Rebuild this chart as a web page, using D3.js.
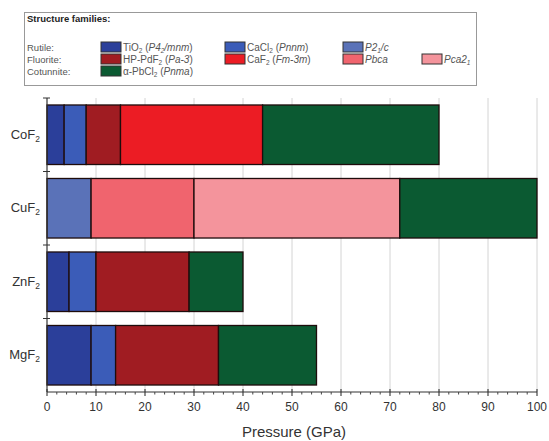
<!DOCTYPE html>
<html><head><meta charset="utf-8">
<script src="https://cdn.jsdelivr.net/npm/d3@7"></script>
<style>body{margin:0;background:#fff}svg{display:block;font-family:Arial,"Liberation Sans",sans-serif}</style>
</head><body><svg id="c" width="549" height="441"></svg>
<script>
const compounds = ["CoF2","CuF2","ZnF2","MgF2"];
const phases = ["TiO2","CaCl2","P21c","HPPdF2","CaF2","Pbca","Pca21","PbCl2"];
const phaseColors = ["#2b3f9a","#3b5cb8","#5a72b8","#a01c22","#ec1c24","#f0646e","#f4949c","#0b5a32"];
// segments: [compound, phase, start, end] in GPa
const segCompound = ["CoF2","CoF2","CoF2","CoF2","CoF2","CuF2","CuF2","CuF2","CuF2","ZnF2","ZnF2","ZnF2","ZnF2","MgF2","MgF2","MgF2","MgF2"];
const segPhase    = ["TiO2","CaCl2","HPPdF2","CaF2","PbCl2","P21c","Pbca","Pca21","PbCl2","TiO2","CaCl2","HPPdF2","PbCl2","TiO2","CaCl2","HPPdF2","PbCl2"];
const segStart    = [0,3.5,8,15,44, 0,9,30,72, 0,4.5,10,29, 0,9,14,35];
const segEnd      = [3.5,8,15,44,80, 9,30,72,100, 4.5,10,29,40, 9,14,35,55];
const xTicks = [0,10,20,30,40,50,60,70,80,90,100];

const svg = d3.select("#c");
const x = d3.scaleLinear().domain([0,100]).range([47,537]);
const y = d3.scaleBand().domain(compounds).range([98,392]).paddingInner(0.19).paddingOuter(0.095);
const color = d3.scaleOrdinal().domain(phases).range(phaseColors);

// grid
svg.append("g").selectAll("line").data(xTicks.slice(1)).join("line")
  .attr("x1",d=>x(d)).attr("x2",d=>x(d)).attr("y1",98).attr("y2",392)
  .attr("stroke","#d4d4d4").attr("stroke-width",1);

// bars
const segs = segCompound.map((c,i)=>({c, p:segPhase[i], s:segStart[i], e:segEnd[i]}));
svg.append("g").selectAll("rect").data(segs).join("rect")
  .attr("x",d=>x(d.s)).attr("width",d=>x(d.e)-x(d.s))
  .attr("y",d=>y(d.c)).attr("height",y.bandwidth())
  .attr("fill",d=>color(d.p)).attr("stroke","#1e0c0c").attr("stroke-width",1.3);

// x axis
const xa = svg.append("g").attr("transform","translate(0,392)");
xa.append("line").attr("x1",x(0)).attr("x2",x(100)).attr("stroke","#333").attr("stroke-width",1.2);
xa.selectAll(".mt").data(d3.range(0,101,2).filter(v=>v%10)).join("line")
  .attr("x1",d=>x(d)).attr("x2",d=>x(d)).attr("y1",0).attr("y2",2.5).attr("stroke","#444");
xa.selectAll(".Mt").data(xTicks).join("line")
  .attr("x1",d=>x(d)).attr("x2",d=>x(d)).attr("y1",-3).attr("y2",4).attr("stroke","#333").attr("stroke-width",1.1);
xa.selectAll("text").data(xTicks).join("text")
  .attr("x",d=>x(d)).attr("y",19).attr("text-anchor","middle")
  .attr("font-size",12).attr("fill","#333").text(d=>d);
svg.append("text").attr("x",294).attr("y",437).attr("text-anchor","middle")
  .attr("font-size",15).attr("fill","#333").text("Pressure (GPa)");

// y axis
const ya = svg.append("g");
ya.append("line").attr("x1",47).attr("x2",47).attr("y1",98).attr("y2",392).attr("stroke","#333").attr("stroke-width",1.2);
const bounds = compounds.map(c=>y(c)-y.step()*y.paddingInner()/2);
bounds[0]=98;
ya.selectAll(".yt").data(bounds).join("line")
  .attr("x1",43).attr("x2",50).attr("y1",d=>d).attr("y2",d=>d).attr("stroke","#333");
const yl = ya.selectAll(".yl").data(compounds).join("text")
  .attr("x",40).attr("y",d=>y(d)+y.bandwidth()/2+4).attr("text-anchor","end")
  .attr("font-size",13).attr("fill","#333");
yl.append("tspan").text(d=>d.slice(0,-1));
yl.append("tspan").attr("font-size",8.5).attr("dy",3).text(d=>d.slice(-1));

// legend
const lg = svg.append("g");
lg.append("rect").attr("x",24.5).attr("y",12.5).attr("width",452).attr("height",73)
  .attr("fill","#fff").attr("stroke","#999");
lg.append("text").attr("x",27).attr("y",22).attr("font-size",9.5).attr("font-weight","bold").attr("fill","#222").text("Structure families:");
const rowY = [47,59,71];
const rowLabels = ["Rutile:","Fluorite:","Cotunnite:"];
lg.selectAll(".rl").data(rowLabels).join("text")
  .attr("x",27).attr("y",(d,i)=>rowY[i]+3.5).attr("font-size",9.5).attr("fill","#555").text(d=>d);
const colX = [101,225,343,422];
const items = [
  {p:"TiO2", r:0,c:0, parts:[["TiO",""],["2","sub"],[" (",""],["P4","i"],["2","isub"],["/mnm","i"],[")",""]]},
  {p:"CaCl2",r:0,c:1, parts:[["CaCl",""],["2","sub"],[" (",""],["Pnnm","i"],[")",""]]},
  {p:"P21c", r:0,c:2, parts:[["P2","i"],["1","isub"],["/c","i"]]},
  {p:"HPPdF2",r:1,c:0, parts:[["HP-PdF",""],["2","sub"],[" (",""],["Pa-3","i"],[")",""]]},
  {p:"CaF2", r:1,c:1, parts:[["CaF",""],["2","sub"],[" (",""],["Fm-3m","i"],[")",""]]},
  {p:"Pbca", r:1,c:2, parts:[["Pbca","i"]]},
  {p:"Pca21",r:1,c:3, parts:[["Pca2","i"],["1","isub"]]},
  {p:"PbCl2",r:2,c:0, parts:[["α-PbCl",""],["2","sub"],[" (",""],["Pnma","i"],[")",""]]}
];
items.forEach(it=>{
  const gx = colX[it.c], gy = rowY[it.r];
  lg.append("rect").attr("x",gx).attr("y",gy-5).attr("width",20).attr("height",10)
    .attr("fill",color(it.p)).attr("stroke","#333").attr("stroke-width",1);
  const t = lg.append("text").attr("x",gx+22).attr("y",gy+3.5).attr("font-size",10).attr("fill","#555");
  let sub=false;
  it.parts.forEach(([s,f])=>{
    const ts = t.append("tspan").text(s);
    if(f.includes("i")) ts.attr("font-style","italic");
    const isSub = f.includes("sub");
    if(isSub){ts.attr("font-size",6.5).attr("dy",2);}
    else if(sub){ts.attr("dy",-2);}
    sub=isSub;
  });
});
</script></body></html>
